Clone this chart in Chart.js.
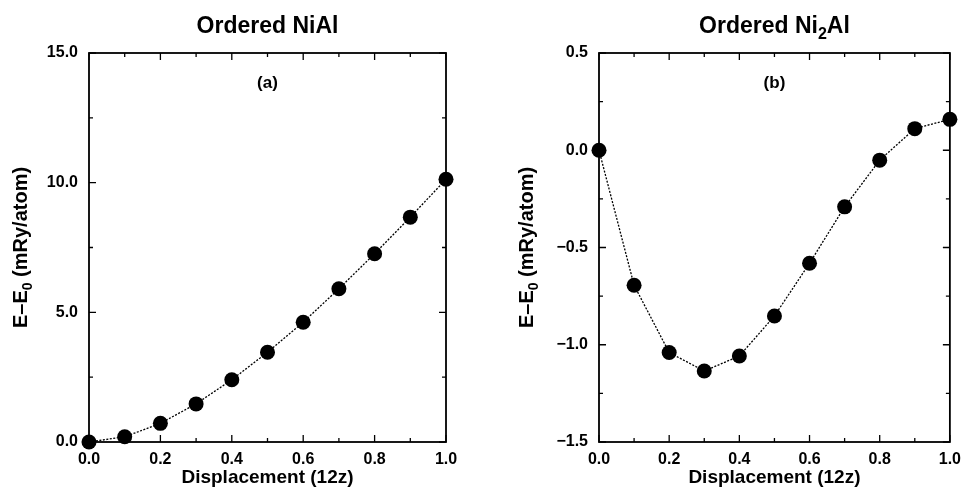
<!DOCTYPE html>
<html>
<head>
<meta charset="utf-8">
<script src="https://cdn.jsdelivr.net/npm/chart.js@4/dist/chart.umd.min.js"></script>
<style>
  html, body { margin: 0; padding: 0; background: #fff; }
  #wrap { position: relative; width: 969px; height: 489px; }
  canvas { position: absolute; top: 0; }
</style>
</head>
<body>
<div id="wrap">
  <canvas id="chartNiAl" width="484" height="489" style="left:0px"></canvas>
  <canvas id="chartNi2Al" width="485" height="489" style="left:484px"></canvas>
</div>
<script>
// Displacement of the atoms, in units of 12z
const displacement = [0.0, 0.1, 0.2, 0.3, 0.4, 0.5, 0.6, 0.7, 0.8, 0.9, 1.0];

// Total energy relative to the undisplaced structure (mRy/atom)
const energyNiAl  = [0.00, 0.20, 0.72, 1.47, 2.40, 3.46, 4.62, 5.91, 7.26, 8.67, 10.13];
const energyNi2Al = [0.000, -0.694, -1.040, -1.135, -1.058, -0.852, -0.581, -0.291, -0.051, 0.111, 0.159];

// Tick values
const xMajorTicks = [0.0, 0.2, 0.4, 0.6, 0.8, 1.0];
const xMinorTicks = [0.1, 0.3, 0.5, 0.7, 0.9];
const yMajorTicksNiAl = [0, 5, 10, 15];
const yMinorTicksNiAl = [2.5, 7.5, 12.5];
const yMajorTicksNi2Al = [-1.5, -1.0, -0.5, 0.0, 0.5];
const yMinorTicksNi2Al = [-1.25, -0.75, -0.25, 0.25];

const FONT = '"Liberation Sans", Arial, Helvetica, sans-serif';
const INK = '#000';

function fmtTick(v) {
  const s = Number(v).toFixed(1);
  return s.startsWith('-') ? '\u2212' + s.slice(1) : s;
}

// Draws a run of text pieces, some of them as subscripts, centred on x.
function drawRich(ctx, parts, x, y, size) {
  const subSize = Math.round(size * 0.68);
  let total = 0;
  const widths = parts.map(p => {
    ctx.font = 'bold ' + (p.sub ? subSize : size) + 'px ' + FONT;
    const w = ctx.measureText(p.t).width;
    total += w;
    return w;
  });
  let cx = x - total / 2;
  ctx.textAlign = 'left';
  ctx.textBaseline = 'alphabetic';
  parts.forEach((p, i) => {
    ctx.font = 'bold ' + (p.sub ? subSize : size) + 'px ' + FONT;
    ctx.fillText(p.t, cx, p.sub ? y + size * 0.24 : y);
    cx += widths[i];
  });
}

// Frame with inward ticks on all four sides
const framePlugin = {
  id: 'frame',
  beforeDatasetsDraw(chart, args, opts) {
    const { ctx, chartArea: a, scales } = chart;
    ctx.save();
    ctx.strokeStyle = INK;
    ctx.lineWidth = 1.8;
    ctx.strokeRect(a.left, a.top, a.right - a.left, a.bottom - a.top);
    ctx.lineWidth = 1.3;
    const tick = (vals, len, axis) => {
      vals.forEach(v => {
        ctx.beginPath();
        if (axis === 'x') {
          const px = scales.x.getPixelForValue(v);
          ctx.moveTo(px, a.bottom); ctx.lineTo(px, a.bottom - len);
          ctx.moveTo(px, a.top); ctx.lineTo(px, a.top + len);
        } else {
          const py = scales.y.getPixelForValue(v);
          ctx.moveTo(a.left, py); ctx.lineTo(a.left + len, py);
          ctx.moveTo(a.right, py); ctx.lineTo(a.right - len, py);
        }
        ctx.stroke();
      });
    };
    tick(opts.xMajor, 7, 'x');
    tick(opts.xMinor, 4, 'x');
    tick(opts.yMajor, 7, 'y');
    tick(opts.yMinor, 4, 'y');
    ctx.restore();
  },
  afterDraw(chart, args, opts) {
    const { ctx, chartArea: a } = chart;
    const midX = (a.left + a.right) / 2;
    const midY = (a.top + a.bottom) / 2;
    ctx.save();
    ctx.fillStyle = INK;
    // panel heading
    drawRich(ctx, opts.heading, midX, 33, 23);
    // panel tag
    ctx.font = 'bold 17px ' + FONT;
    ctx.textAlign = 'center';
    ctx.textBaseline = 'middle';
    ctx.fillText(opts.tag, midX, 83);
    // x axis title
    ctx.font = 'bold 19px ' + FONT;
    ctx.textBaseline = 'alphabetic';
    ctx.fillText('Displacement (12z)', midX, 483);
    // y axis title
    ctx.translate(opts.yTitleX, midY);
    ctx.rotate(-Math.PI / 2);
    drawRich(ctx, [{ t: 'E\u2013E' }, { t: '0', sub: true }, { t: ' (mRy/atom)' }], 0, 0, 20);
    ctx.restore();
  }
};

function makeChart(id, values, yMin, yMax, yMajor, yMinor, area, heading, tag, yTitleX) {
  const canvas = document.getElementById(id);
  const W = canvas.width, H = canvas.height;
  return new Chart(canvas, {
    type: 'line',
    data: {
      datasets: [{
        data: displacement.map((x, i) => ({ x: x, y: values[i] })),
        borderColor: INK,
        borderWidth: 1.3,
        borderDash: [2, 1.5],
        tension: 0,
        pointRadius: 7.5,
        pointHoverRadius: 7.5,
        pointBorderWidth: 0,
        pointBackgroundColor: INK,
        clip: false
      }]
    },
    options: {
      responsive: false,
      animation: false,
      events: [],
      devicePixelRatio: 1,
      layout: { padding: { top: area.top, right: W - area.right, left: 0, bottom: 0 } },
      plugins: {
        legend: { display: false },
        title: { display: false },
        tooltip: { enabled: false },
        frame: { xMajor: xMajorTicks, xMinor: xMinorTicks, yMajor: yMajor, yMinor: yMinor,
                 heading: heading, tag: tag, yTitleX: yTitleX }
      },
      scales: {
        x: {
          type: 'linear', min: 0, max: 1,
          afterBuildTicks: s => { s.ticks = xMajorTicks.map(v => ({ value: v })); },
          afterFit: s => { s.height = H - area.bottom; },
          grid: { display: false, drawTicks: false },
          border: { display: false },
          ticks: { callback: fmtTick, color: INK, padding: 8, maxRotation: 0, autoSkip: false,
                   font: { family: FONT, size: 16, weight: 'bold' } }
        },
        y: {
          type: 'linear', min: yMin, max: yMax,
          afterBuildTicks: s => { s.ticks = yMajor.map(v => ({ value: v })); },
          afterFit: s => { s.width = area.left; },
          grid: { display: false, drawTicks: false },
          border: { display: false },
          ticks: { callback: fmtTick, color: INK, padding: 11, autoSkip: false,
                   font: { family: FONT, size: 16, weight: 'bold' } }
        }
      }
    },
    plugins: [framePlugin]
  });
}

makeChart('chartNiAl', energyNiAl, 0, 15, yMajorTicksNiAl, yMinorTicksNiAl,
  { left: 89, right: 446, top: 53, bottom: 442 },
  [{ t: 'Ordered NiAl' }], '(a)', 27);

makeChart('chartNi2Al', energyNi2Al, -1.5, 0.5, yMajorTicksNi2Al, yMinorTicksNi2Al,
  { left: 115, right: 471, top: 53, bottom: 442 },
  [{ t: 'Ordered Ni' }, { t: '2', sub: true }, { t: 'Al' }], '(b)', 49);
</script>
</body>
</html>
